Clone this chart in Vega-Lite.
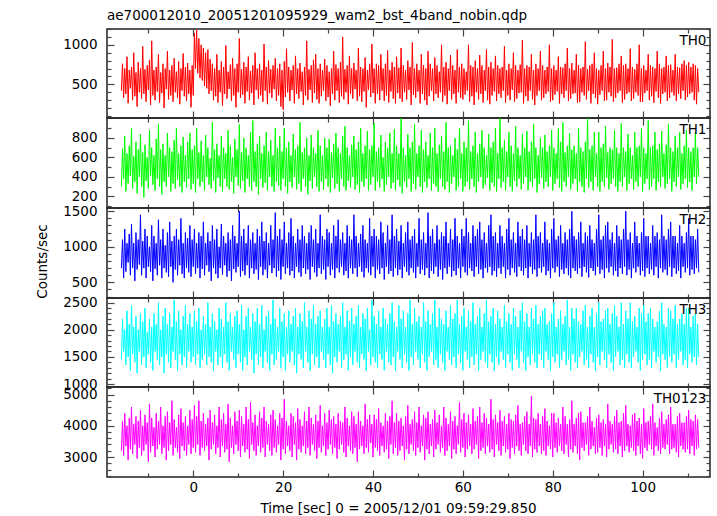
{
"$schema": "https://vega.github.io/schema/vega-lite/v6.json",
"padding": {"left": 34, "top": 8, "right": 5, "bottom": 2},
"background": "white",
"bounds": "flush",
"spacing": 0,
"config": {
  "font": "DejaVu Sans",
  "view": {"stroke": "#222", "strokeWidth": 1.5},
  "axis": {"grid": false, "domain": false, "labelFont": "DejaVu Sans", "labelFontSize": 13.5, "labelColor": "#000", "tickColor": "#444", "tickWidth": 1.2, "titleFont": "DejaVu Sans", "titleFontSize": 13.5, "titleFontWeight": "normal", "titleColor": "#000", "labelOverlap": false, "labelFlush": false},
  "line": {"strokeWidth": 1, "strokeJoin": "bevel"},
  "text": {"font": "DejaVu Sans"}
},
"datasets": {"lc": [
{"t":-16,"a":420,"b":300,"c":700,"d":1450,"e":3200},
{"t":-15.75,"a":760,"b":690,"c":1100,"d":2200,"e":4150},
{"t":-15.5,"a":330,"b":380,"c":560,"d":1600,"e":3050},
{"t":-15.25,"a":700,"b":820,"c":1250,"d":2000,"e":4400},
{"t":-15,"a":380,"b":250,"c":650,"d":1350,"e":3350},
{"t":-14.75,"a":850,"b":640,"c":1050,"d":2350,"e":4000},
{"t":-14.5,"a":260,"b":330,"c":780,"d":1500,"e":2900},
{"t":-14.25,"a":680,"b":720,"c":1180,"d":2100,"e":4250},
{"t":-14,"a":450,"b":410,"c":600,"d":1250,"e":3250},
{"t":-13.75,"a":720,"b":900,"c":1320,"d":2450,"e":4600},
{"t":-13.5,"a":300,"b":280,"c":700,"d":1550,"e":3100},
{"t":-13.25,"a":900,"b":610,"c":1050,"d":2050,"e":4050},
{"t":-13,"a":350,"b":350,"c":520,"d":1400,"e":3400},
{"t":-12.75,"a":650,"b":760,"c":1200,"d":2250,"e":4300},
{"t":-12.5,"a":220,"b":230,"c":680,"d":1200,"e":2950},
{"t":-12.25,"a":780,"b":680,"c":1100,"d":2000,"e":4150},
{"t":-12,"a":400,"b":400,"c":750,"d":1600,"e":3300},
{"t":-11.75,"a":700,"b":840,"c":1450,"d":2300,"e":4500},
{"t":-11.5,"a":320,"b":300,"c":600,"d":1350,"e":3050},
{"t":-11.25,"a":980,"b":650,"c":1080,"d":2150,"e":4000},
{"t":-11,"a":380,"b":190,"c":700,"d":1500,"e":3200},
{"t":-10.75,"a":690,"b":730,"c":1250,"d":2400,"e":4350},
{"t":-10.5,"a":280,"b":360,"c":560,"d":1300,"e":3400},
{"t":-10.25,"a":740,"b":600,"c":1150,"d":1950,"e":4100},
{"t":-10,"a":430,"b":280,"c":720,"d":1550,"e":2850},
{"t":-9.75,"a":810,"b":880,"c":1000,"d":2200,"e":4700},
{"t":-9.5,"a":240,"b":410,"c":650,"d":1400,"e":3150},
{"t":-9.25,"a":1050,"b":700,"c":1300,"d":2050,"e":4250},
{"t":-9,"a":360,"b":320,"c":520,"d":1250,"e":3350},
{"t":-8.75,"a":680,"b":620,"c":1150,"d":2300,"e":3950},
{"t":-8.5,"a":300,"b":260,"c":690,"d":1600,"e":3000},
{"t":-8.25,"a":720,"b":790,"c":1050,"d":2100,"e":4400},
{"t":-8,"a":410,"b":380,"c":600,"d":1450,"e":3250},
{"t":-7.75,"a":880,"b":940,"c":1380,"d":2500,"e":4150},
{"t":-7.5,"a":270,"b":300,"c":740,"d":1350,"e":3400},
{"t":-7.25,"a":650,"b":680,"c":1100,"d":2000,"e":4600},
{"t":-7,"a":390,"b":220,"c":560,"d":1500,"e":3100},
{"t":-6.75,"a":760,"b":740,"c":1250,"d":2250,"e":4000},
{"t":-6.5,"a":200,"b":350,"c":700,"d":1200,"e":3300},
{"t":-6.25,"a":700,"b":620,"c":1020,"d":2400,"e":4300},
{"t":-6,"a":440,"b":300,"c":640,"d":1550,"e":2900},
{"t":-5.75,"a":920,"b":850,"c":1200,"d":2100,"e":4450},
{"t":-5.5,"a":310,"b":400,"c":580,"d":1400,"e":3200},
{"t":-5.25,"a":680,"b":700,"c":1350,"d":2300,"e":4100},
{"t":-5,"a":360,"b":250,"c":720,"d":1300,"e":3400},
{"t":-4.75,"a":740,"b":660,"c":1080,"d":2050,"e":4800},
{"t":-4.5,"a":280,"b":330,"c":500,"d":1600,"e":3050},
{"t":-4.25,"a":830,"b":780,"c":1150,"d":2550,"e":4200},
{"t":-4,"a":400,"b":280,"c":680,"d":1450,"e":3300},
{"t":-3.75,"a":660,"b":900,"c":1250,"d":2150,"e":3950},
{"t":-3.5,"a":330,"b":370,"c":600,"d":1250,"e":3150},
{"t":-3.25,"a":790,"b":640,"c":1100,"d":2350,"e":4350},
{"t":-3,"a":250,"b":300,"c":740,"d":1550,"e":2950},
{"t":-2.75,"a":700,"b":720,"c":1400,"d":2000,"e":4550},
{"t":-2.5,"a":420,"b":240,"c":620,"d":1350,"e":3350},
{"t":-2.25,"a":890,"b":810,"c":1050,"d":2250,"e":4100},
{"t":-2,"a":350,"b":350,"c":560,"d":1500,"e":3200},
{"t":-1.75,"a":720,"b":620,"c":1200,"d":2450,"e":4300},
{"t":-1.5,"a":290,"b":290,"c":700,"d":1300,"e":3050},
{"t":-1.25,"a":770,"b":760,"c":1120,"d":2100,"e":4000},
{"t":-1,"a":380,"b":380,"c":640,"d":1600,"e":3400},
{"t":-0.75,"a":680,"b":850,"c":1300,"d":2300,"e":4500},
{"t":-0.5,"a":210,"b":270,"c":580,"d":1400,"e":3100},
{"t":-0.25,"a":740,"b":680,"c":1100,"d":2050,"e":4200},
{"t":0,"a":360,"b":330,"c":720,"d":1500,"e":3300},
{"t":0.25,"a":1150,"b":720,"c":1250,"d":2350,"e":4650},
{"t":0.5,"a":700,"b":240,"c":620,"d":1350,"e":3150},
{"t":0.75,"a":1190,"b":900,"c":1050,"d":2150,"e":4300},
{"t":1,"a":640,"b":380,"c":700,"d":1550,"e":3400},
{"t":1.25,"a":1080,"b":650,"c":1200,"d":2400,"e":4800},
{"t":1.5,"a":580,"b":300,"c":560,"d":1300,"e":3050},
{"t":1.75,"a":1000,"b":770,"c":1150,"d":2000,"e":4150},
{"t":2,"a":550,"b":350,"c":690,"d":1450,"e":3300},
{"t":2.25,"a":960,"b":620,"c":1350,"d":2250,"e":4400},
{"t":2.5,"a":480,"b":260,"c":600,"d":1550,"e":3200},
{"t":2.75,"a":900,"b":830,"c":1050,"d":2100,"e":4050},
{"t":3,"a":450,"b":400,"c":740,"d":1350,"e":3350},
{"t":3.25,"a":940,"b":700,"c":1200,"d":2500,"e":4250},
{"t":3.5,"a":380,"b":320,"c":650,"d":1500,"e":2900},
{"t":3.75,"a":820,"b":590,"c":1080,"d":2050,"e":4500},
{"t":4,"a":420,"b":280,"c":520,"d":1400,"e":3250},
{"t":4.25,"a":760,"b":960,"c":1300,"d":2300,"e":4100},
{"t":4.5,"a":300,"b":360,"c":700,"d":1250,"e":3400},
{"t":4.75,"a":700,"b":680,"c":1100,"d":2150,"e":4350},
{"t":5,"a":350,"b":240,"c":620,"d":1600,"e":3100},
{"t":5.25,"a":880,"b":740,"c":1250,"d":2000,"e":4000},
{"t":5.5,"a":270,"b":390,"c":560,"d":1350,"e":3300},
{"t":5.75,"a":680,"b":620,"c":1000,"d":2400,"e":4600},
{"t":6,"a":400,"b":300,"c":700,"d":1500,"e":3000},
{"t":6.25,"a":790,"b":820,"c":1320,"d":2200,"e":4200},
{"t":6.5,"a":230,"b":250,"c":610,"d":1300,"e":3350},
{"t":6.75,"a":720,"b":700,"c":1150,"d":2050,"e":4400},
{"t":7,"a":380,"b":380,"c":740,"d":1550,"e":3150},
{"t":7.25,"a":990,"b":640,"c":1050,"d":2500,"e":4050},
{"t":7.5,"a":320,"b":300,"c":580,"d":1400,"e":3250},
{"t":7.75,"a":660,"b":880,"c":1200,"d":2150,"e":4700},
{"t":8,"a":440,"b":270,"c":660,"d":1250,"e":2850},
{"t":8.25,"a":750,"b":720,"c":1100,"d":2300,"e":4250},
{"t":8.5,"a":290,"b":350,"c":520,"d":1600,"e":3300},
{"t":8.75,"a":830,"b":600,"c":1300,"d":2050,"e":4000},
{"t":9,"a":360,"b":230,"c":690,"d":1450,"e":3100},
{"t":9.25,"a":700,"b":790,"c":1150,"d":2250,"e":4450},
{"t":9.5,"a":210,"b":400,"c":640,"d":1300,"e":3400},
{"t":9.75,"a":760,"b":680,"c":1050,"d":2350,"e":4150},
{"t":10,"a":400,"b":310,"c":720,"d":1550,"e":3200},
{"t":10.25,"a":1080,"b":940,"c":1500,"d":2100,"e":4500},
{"t":10.5,"a":330,"b":280,"c":580,"d":1400,"e":3000},
{"t":10.75,"a":690,"b":650,"c":1150,"d":2450,"e":4300},
{"t":11,"a":370,"b":360,"c":660,"d":1250,"e":3350},
{"t":11.25,"a":780,"b":800,"c":1250,"d":2000,"e":4050},
{"t":11.5,"a":260,"b":240,"c":600,"d":1500,"e":3150},
{"t":11.75,"a":720,"b":700,"c":1050,"d":2250,"e":4600},
{"t":12,"a":410,"b":380,"c":740,"d":1350,"e":3250},
{"t":12.25,"a":850,"b":620,"c":1300,"d":2400,"e":4200},
{"t":12.5,"a":300,"b":300,"c":560,"d":1600,"e":2950},
{"t":12.75,"a":670,"b":860,"c":1100,"d":2050,"e":4750},
{"t":13,"a":390,"b":260,"c":700,"d":1450,"e":3400},
{"t":13.25,"a":740,"b":980,"c":1200,"d":2300,"e":4100},
{"t":13.5,"a":240,"b":350,"c":620,"d":1200,"e":3200},
{"t":13.75,"a":900,"b":660,"c":1050,"d":2150,"e":4350},
{"t":14,"a":430,"b":300,"c":680,"d":1550,"e":3050},
{"t":14.25,"a":700,"b":740,"c":1250,"d":2400,"e":4000},
{"t":14.5,"a":320,"b":220,"c":540,"d":1350,"e":3350},
{"t":14.75,"a":760,"b":820,"c":1150,"d":2100,"e":4450},
{"t":15,"a":360,"b":380,"c":720,"d":1500,"e":3150},
{"t":15.25,"a":680,"b":640,"c":1350,"d":2450,"e":4250},
{"t":15.5,"a":280,"b":290,"c":600,"d":1300,"e":3300},
{"t":15.75,"a":1010,"b":720,"c":1080,"d":2000,"e":4600},
{"t":16,"a":420,"b":340,"c":680,"d":1600,"e":3000},
{"t":16.25,"a":720,"b":860,"c":1200,"d":2250,"e":4150},
{"t":16.5,"a":250,"b":260,"c":560,"d":1400,"e":3400},
{"t":16.75,"a":800,"b":660,"c":1050,"d":2350,"e":4050},
{"t":17,"a":390,"b":400,"c":740,"d":1250,"e":3200},
{"t":17.25,"a":690,"b":780,"c":1300,"d":2100,"e":4350},
{"t":17.5,"a":330,"b":300,"c":630,"d":1550,"e":3050},
{"t":17.75,"a":740,"b":620,"c":1100,"d":2550,"e":4500},
{"t":18,"a":440,"b":250,"c":700,"d":1350,"e":3300},
{"t":18.25,"a":830,"b":900,"c":1480,"d":2200,"e":4200},
{"t":18.5,"a":290,"b":350,"c":580,"d":1450,"e":3150},
{"t":18.75,"a":700,"b":700,"c":1150,"d":2050,"e":4000},
{"t":19,"a":360,"b":310,"c":660,"d":1600,"e":3400},
{"t":19.25,"a":760,"b":820,"c":1250,"d":2400,"e":4400},
{"t":19.5,"a":220,"b":260,"c":540,"d":1300,"e":2900},
{"t":19.75,"a":680,"b":660,"c":1100,"d":2150,"e":4250},
{"t":20,"a":180,"b":380,"c":720,"d":1500,"e":3250},
{"t":20.25,"a":790,"b":900,"c":1350,"d":2300,"e":4850},
{"t":20.5,"a":340,"b":300,"c":620,"d":1250,"e":3100},
{"t":20.75,"a":950,"b":700,"c":1050,"d":2050,"e":4150},
{"t":21,"a":400,"b":230,"c":700,"d":1550,"e":3350},
{"t":21.25,"a":720,"b":760,"c":1200,"d":2350,"e":4000},
{"t":21.5,"a":290,"b":350,"c":600,"d":1400,"e":3200},
{"t":21.75,"a":680,"b":620,"c":1400,"d":2100,"e":4400},
{"t":22,"a":430,"b":290,"c":660,"d":1600,"e":3000},
{"t":22.25,"a":740,"b":840,"c":1150,"d":2250,"e":4300},
{"t":22.5,"a":260,"b":400,"c":560,"d":1350,"e":3400},
{"t":22.75,"a":860,"b":680,"c":1050,"d":2400,"e":4100},
{"t":23,"a":380,"b":270,"c":720,"d":1200,"e":2900},
{"t":23.25,"a":700,"b":720,"c":1250,"d":2050,"e":4550},
{"t":23.5,"a":320,"b":330,"c":640,"d":1550,"e":3250},
{"t":23.75,"a":770,"b":960,"c":1100,"d":2300,"e":4200},
{"t":24,"a":410,"b":250,"c":580,"d":1450,"e":3150},
{"t":24.25,"a":660,"b":650,"c":1300,"d":2150,"e":4000},
{"t":24.5,"a":240,"b":380,"c":700,"d":1300,"e":3350},
{"t":24.75,"a":720,"b":700,"c":1150,"d":2500,"e":4450},
{"t":25,"a":360,"b":300,"c":620,"d":1600,"e":3100},
{"t":25.25,"a":1050,"b":800,"c":1050,"d":2050,"e":4150},
{"t":25.5,"a":300,"b":220,"c":680,"d":1400,"e":3300},
{"t":25.75,"a":690,"b":620,"c":1200,"d":2350,"e":4600},
{"t":26,"a":430,"b":360,"c":540,"d":1250,"e":3050},
{"t":26.25,"a":740,"b":830,"c":1300,"d":2200,"e":4250},
{"t":26.5,"a":270,"b":280,"c":720,"d":1550,"e":3400},
{"t":26.75,"a":810,"b":700,"c":1100,"d":2450,"e":4050},
{"t":27,"a":390,"b":400,"c":640,"d":1350,"e":3200},
{"t":27.25,"a":880,"b":640,"c":1250,"d":2100,"e":4350},
{"t":27.5,"a":310,"b":300,"c":580,"d":1500,"e":2950},
{"t":27.75,"a":700,"b":880,"c":1050,"d":2250,"e":4150},
{"t":28,"a":260,"b":250,"c":700,"d":1300,"e":3300},
{"t":28.25,"a":760,"b":720,"c":1450,"d":2350,"e":4650},
{"t":28.5,"a":350,"b":350,"c":620,"d":1600,"e":3150},
{"t":28.75,"a":680,"b":620,"c":1150,"d":2050,"e":4000},
{"t":29,"a":420,"b":270,"c":680,"d":1450,"e":3350},
{"t":29.25,"a":820,"b":800,"c":1100,"d":2200,"e":4400},
{"t":29.5,"a":290,"b":380,"c":540,"d":1300,"e":3050},
{"t":29.75,"a":740,"b":700,"c":1250,"d":2400,"e":4100},
{"t":30,"a":340,"b":300,"c":720,"d":1550,"e":3250},
{"t":30.25,"a":660,"b":790,"c":1200,"d":2050,"e":4500},
{"t":30.5,"a":230,"b":240,"c":600,"d":1350,"e":3400},
{"t":30.75,"a":700,"b":650,"c":1050,"d":2450,"e":4200},
{"t":31,"a":380,"b":390,"c":680,"d":1200,"e":3100},
{"t":31.25,"a":920,"b":740,"c":1300,"d":2150,"e":4300},
{"t":31.5,"a":300,"b":280,"c":560,"d":1500,"e":3300},
{"t":31.75,"a":750,"b":850,"c":1150,"d":2300,"e":4050},
{"t":32,"a":420,"b":330,"c":700,"d":1400,"e":2950},
{"t":32.25,"a":700,"b":700,"c":1380,"d":2100,"e":4400},
{"t":32.5,"a":270,"b":250,"c":640,"d":1600,"e":3250},
{"t":32.75,"a":780,"b":640,"c":1100,"d":2250,"e":4150},
{"t":33,"a":350,"b":380,"c":720,"d":1300,"e":3400},
{"t":33.25,"a":1100,"b":820,"c":1200,"d":2500,"e":4100},
{"t":33.5,"a":310,"b":300,"c":600,"d":1450,"e":3150},
{"t":33.75,"a":690,"b":920,"c":1050,"d":2050,"e":4600},
{"t":34,"a":400,"b":260,"c":660,"d":1550,"e":3000},
{"t":34.25,"a":740,"b":700,"c":1300,"d":2350,"e":4250},
{"t":34.5,"a":250,"b":360,"c":560,"d":1250,"e":3350},
{"t":34.75,"a":860,"b":620,"c":1150,"d":2150,"e":4000},
{"t":35,"a":380,"b":290,"c":700,"d":1500,"e":3200},
{"t":35.25,"a":700,"b":730,"c":1100,"d":2400,"e":4450},
{"t":35.5,"a":320,"b":400,"c":620,"d":1350,"e":3100},
{"t":35.75,"a":770,"b":820,"c":1450,"d":2100,"e":4300},
{"t":36,"a":440,"b":270,"c":700,"d":1600,"e":3300},
{"t":36.25,"a":680,"b":680,"c":1150,"d":2250,"e":4050},
{"t":36.5,"a":290,"b":320,"c":580,"d":1400,"e":2850},
{"t":36.75,"a":960,"b":760,"c":1050,"d":2450,"e":4450},
{"t":37,"a":350,"b":240,"c":720,"d":1300,"e":3250},
{"t":37.25,"a":720,"b":900,"c":1180,"d":2050,"e":4150},
{"t":37.5,"a":280,"b":350,"c":650,"d":1550,"e":3350},
{"t":37.75,"a":700,"b":640,"c":1300,"d":2300,"e":4000},
{"t":38,"a":410,"b":300,"c":570,"d":1450,"e":3100},
{"t":38.25,"a":840,"b":720,"c":1100,"d":2200,"e":4700},
{"t":38.5,"a":210,"b":380,"c":700,"d":1250,"e":3300},
{"t":38.75,"a":680,"b":870,"c":1050,"d":2400,"e":4200},
{"t":39,"a":430,"b":260,"c":640,"d":1600,"e":3150},
{"t":39.25,"a":760,"b":680,"c":1400,"d":2000,"e":4350},
{"t":39.5,"a":340,"b":320,"c":600,"d":1350,"e":3450},
{"t":39.75,"a":1010,"b":720,"c":1150,"d":2550,"e":4050},
{"t":40,"a":390,"b":400,"c":720,"d":1500,"e":3000},
{"t":40.25,"a":700,"b":950,"c":1250,"d":2250,"e":4350},
{"t":40.5,"a":260,"b":260,"c":560,"d":1400,"e":3300},
{"t":40.75,"a":760,"b":660,"c":1150,"d":2100,"e":4200},
{"t":41,"a":380,"b":350,"c":680,"d":1300,"e":3200},
{"t":41.25,"a":740,"b":700,"c":1100,"d":2350,"e":4550},
{"t":41.5,"a":300,"b":290,"c":620,"d":1550,"e":3050},
{"t":41.75,"a":880,"b":830,"c":1350,"d":2050,"e":4100},
{"t":42,"a":420,"b":380,"c":700,"d":1450,"e":3350},
{"t":42.25,"a":700,"b":600,"c":1200,"d":2400,"e":4000},
{"t":42.5,"a":290,"b":250,"c":540,"d":1250,"e":3150},
{"t":42.75,"a":760,"b":760,"c":1050,"d":2200,"e":4400},
{"t":43,"a":360,"b":320,"c":720,"d":1600,"e":3250},
{"t":43.25,"a":930,"b":700,"c":1300,"d":2100,"e":4150},
{"t":43.5,"a":270,"b":400,"c":620,"d":1400,"e":2950},
{"t":43.75,"a":680,"b":850,"c":1100,"d":2300,"e":4300},
{"t":44,"a":410,"b":280,"c":660,"d":1350,"e":3400},
{"t":44.25,"a":780,"b":640,"c":1450,"d":2500,"e":4800},
{"t":44.5,"a":320,"b":340,"c":580,"d":1500,"e":3100},
{"t":44.75,"a":720,"b":890,"c":1150,"d":2150,"e":4100},
{"t":45,"a":260,"b":260,"c":700,"d":1250,"e":3300},
{"t":45.25,"a":850,"b":720,"c":1250,"d":2050,"e":4400},
{"t":45.5,"a":390,"b":370,"c":600,"d":1600,"e":3050},
{"t":45.75,"a":710,"b":640,"c":1080,"d":2450,"e":4150},
{"t":46,"a":320,"b":300,"c":680,"d":1450,"e":3200},
{"t":46.25,"a":960,"b":1000,"c":1300,"d":2200,"e":4250},
{"t":46.5,"a":280,"b":230,"c":560,"d":1300,"e":3350},
{"t":46.75,"a":740,"b":700,"c":1050,"d":2350,"e":4000},
{"t":47,"a":400,"b":350,"c":720,"d":1550,"e":2900},
{"t":47.25,"a":680,"b":620,"c":1200,"d":2050,"e":4300},
{"t":47.5,"a":310,"b":290,"c":650,"d":1400,"e":3250},
{"t":47.75,"a":800,"b":840,"c":1350,"d":2300,"e":4650},
{"t":48,"a":430,"b":380,"c":600,"d":1250,"e":3100},
{"t":48.25,"a":720,"b":700,"c":1100,"d":2550,"e":4050},
{"t":48.5,"a":240,"b":250,"c":700,"d":1500,"e":3400},
{"t":48.75,"a":1030,"b":760,"c":1150,"d":2100,"e":4200},
{"t":49,"a":370,"b":330,"c":640,"d":1350,"e":3200},
{"t":49.25,"a":700,"b":940,"c":1250,"d":2400,"e":4450},
{"t":49.5,"a":330,"b":270,"c":560,"d":1600,"e":3050},
{"t":49.75,"a":760,"b":640,"c":1050,"d":2150,"e":4100},
{"t":50,"a":410,"b":400,"c":720,"d":1450,"e":3300},
{"t":50.25,"a":680,"b":720,"c":1400,"d":2250,"e":4600},
{"t":50.5,"a":260,"b":300,"c":620,"d":1300,"e":3150},
{"t":50.75,"a":880,"b":880,"c":1100,"d":2050,"e":4000},
{"t":51,"a":380,"b":240,"c":680,"d":1550,"e":3350},
{"t":51.25,"a":740,"b":680,"c":1200,"d":2500,"e":4350},
{"t":51.5,"a":300,"b":350,"c":600,"d":1400,"e":2900},
{"t":51.75,"a":700,"b":760,"c":1050,"d":2150,"e":4250},
{"t":52,"a":240,"b":290,"c":700,"d":1250,"e":3250},
{"t":52.25,"a":920,"b":620,"c":1480,"d":2350,"e":4450},
{"t":52.5,"a":350,"b":380,"c":560,"d":1500,"e":3100},
{"t":52.75,"a":760,"b":850,"c":1150,"d":2100,"e":4050},
{"t":53,"a":420,"b":260,"c":660,"d":1600,"e":3350},
{"t":53.25,"a":700,"b":700,"c":1250,"d":2300,"e":4200},
{"t":53.5,"a":290,"b":330,"c":620,"d":1350,"e":3000},
{"t":53.75,"a":840,"b":900,"c":1050,"d":2550,"e":4500},
{"t":54,"a":380,"b":300,"c":720,"d":1450,"e":3250},
{"t":54.25,"a":740,"b":640,"c":1300,"d":2050,"e":4100},
{"t":54.5,"a":330,"b":250,"c":580,"d":1300,"e":3400},
{"t":54.75,"a":660,"b":730,"c":1100,"d":2400,"e":4350},
{"t":55,"a":400,"b":380,"c":680,"d":1550,"e":3150},
{"t":55.25,"a":1000,"b":820,"c":1200,"d":2200,"e":4000},
{"t":55.5,"a":280,"b":300,"c":540,"d":1400,"e":3300},
{"t":55.75,"a":720,"b":660,"c":1150,"d":2100,"e":4600},
{"t":56,"a":360,"b":270,"c":700,"d":1250,"e":3050},
{"t":56.25,"a":780,"b":960,"c":1350,"d":2350,"e":4250},
{"t":56.5,"a":250,"b":350,"c":620,"d":1600,"e":3200},
{"t":56.75,"a":700,"b":700,"c":1050,"d":2050,"e":4050},
{"t":57,"a":420,"b":240,"c":720,"d":1450,"e":3350},
{"t":57.25,"a":870,"b":720,"c":1250,"d":2450,"e":4450},
{"t":57.5,"a":310,"b":330,"c":580,"d":1350,"e":2950},
{"t":57.75,"a":740,"b":620,"c":1100,"d":2200,"e":4150},
{"t":58,"a":380,"b":400,"c":660,"d":1500,"e":3250},
{"t":58.25,"a":680,"b":800,"c":1400,"d":2300,"e":4300},
{"t":58.5,"a":260,"b":260,"c":600,"d":1300,"e":3100},
{"t":58.75,"a":940,"b":680,"c":1150,"d":2550,"e":4000},
{"t":59,"a":400,"b":300,"c":700,"d":1550,"e":3400},
{"t":59.25,"a":720,"b":900,"c":1050,"d":2100,"e":4750},
{"t":59.5,"a":330,"b":380,"c":560,"d":1400,"e":3150},
{"t":59.75,"a":760,"b":640,"c":1250,"d":2250,"e":4200},
{"t":60,"a":310,"b":250,"c":720,"d":1250,"e":3300},
{"t":60.25,"a":700,"b":760,"c":1150,"d":2400,"e":4400},
{"t":60.5,"a":370,"b":300,"c":640,"d":1600,"e":3000},
{"t":60.75,"a":660,"b":700,"c":1400,"d":2050,"e":4100},
{"t":61,"a":420,"b":350,"c":600,"d":1450,"e":3250},
{"t":61.25,"a":1000,"b":980,"c":1200,"d":2350,"e":4350},
{"t":61.5,"a":280,"b":270,"c":700,"d":1300,"e":3350},
{"t":61.75,"a":740,"b":660,"c":1050,"d":2150,"e":4050},
{"t":62,"a":350,"b":380,"c":660,"d":1500,"e":3100},
{"t":62.25,"a":720,"b":720,"c":1300,"d":2500,"e":4550},
{"t":62.5,"a":240,"b":300,"c":580,"d":1350,"e":3250},
{"t":62.75,"a":800,"b":860,"c":1150,"d":2100,"e":4150},
{"t":63,"a":400,"b":240,"c":720,"d":1550,"e":3400},
{"t":63.25,"a":700,"b":640,"c":1250,"d":2250,"e":4300},
{"t":63.5,"a":310,"b":350,"c":620,"d":1250,"e":2950},
{"t":63.75,"a":870,"b":740,"c":1350,"d":2400,"e":4600},
{"t":64,"a":380,"b":400,"c":680,"d":1450,"e":3200},
{"t":64.25,"a":740,"b":880,"c":1100,"d":2050,"e":4100},
{"t":64.5,"a":270,"b":280,"c":560,"d":1600,"e":3300},
{"t":64.75,"a":680,"b":700,"c":1200,"d":2300,"e":4400},
{"t":65,"a":420,"b":320,"c":700,"d":1400,"e":3100},
{"t":65.25,"a":940,"b":620,"c":1050,"d":2550,"e":4250},
{"t":65.5,"a":300,"b":390,"c":640,"d":1300,"e":3350},
{"t":65.75,"a":720,"b":840,"c":1300,"d":2150,"e":4050},
{"t":66,"a":250,"b":260,"c":720,"d":1550,"e":3150},
{"t":66.25,"a":780,"b":700,"c":1450,"d":2250,"e":4850},
{"t":66.5,"a":360,"b":340,"c":600,"d":1400,"e":3250},
{"t":66.75,"a":700,"b":760,"c":1150,"d":2400,"e":4200},
{"t":67,"a":410,"b":300,"c":660,"d":1250,"e":3000},
{"t":67.25,"a":860,"b":900,"c":1200,"d":2100,"e":4350},
{"t":67.5,"a":290,"b":250,"c":580,"d":1500,"e":3400},
{"t":67.75,"a":740,"b":640,"c":1050,"d":2350,"e":4100},
{"t":68,"a":380,"b":380,"c":700,"d":1350,"e":3200},
{"t":68.25,"a":700,"b":1000,"c":1300,"d":2200,"e":4500},
{"t":68.5,"a":330,"b":290,"c":620,"d":1600,"e":3050},
{"t":68.75,"a":720,"b":700,"c":1150,"d":2050,"e":4150},
{"t":69,"a":420,"b":350,"c":720,"d":1450,"e":3350},
{"t":69.25,"a":980,"b":780,"c":1050,"d":2450,"e":4300},
{"t":69.5,"a":270,"b":260,"c":560,"d":1300,"e":3150},
{"t":69.75,"a":680,"b":660,"c":1250,"d":2150,"e":4050},
{"t":70,"a":360,"b":400,"c":680,"d":1550,"e":3250},
{"t":70.25,"a":760,"b":860,"c":1400,"d":2300,"e":4400},
{"t":70.5,"a":300,"b":300,"c":600,"d":1400,"e":2950},
{"t":70.75,"a":700,"b":720,"c":1100,"d":2100,"e":4200},
{"t":71,"a":430,"b":250,"c":700,"d":1250,"e":3300},
{"t":71.25,"a":900,"b":640,"c":1200,"d":2400,"e":4150},
{"t":71.5,"a":280,"b":360,"c":640,"d":1550,"e":3100},
{"t":71.75,"a":740,"b":920,"c":1050,"d":2250,"e":4350},
{"t":72,"a":320,"b":300,"c":580,"d":1450,"e":3350},
{"t":72.25,"a":680,"b":700,"c":1350,"d":2050,"e":4650},
{"t":72.5,"a":390,"b":380,"c":720,"d":1300,"e":3200},
{"t":72.75,"a":750,"b":620,"c":1150,"d":2350,"e":4050},
{"t":73,"a":400,"b":270,"c":660,"d":1600,"e":3050},
{"t":73.25,"a":1060,"b":840,"c":1250,"d":2500,"e":4100},
{"t":73.5,"a":260,"b":330,"c":600,"d":1400,"e":3400},
{"t":73.75,"a":700,"b":700,"c":1100,"d":2150,"e":4300},
{"t":74,"a":350,"b":400,"c":700,"d":1250,"e":3200},
{"t":74.25,"a":740,"b":870,"c":1300,"d":2300,"e":4450},
{"t":74.5,"a":290,"b":260,"c":560,"d":1500,"e":3100},
{"t":74.75,"a":720,"b":660,"c":1050,"d":2050,"e":4050},
{"t":75,"a":420,"b":350,"c":720,"d":1350,"e":3350},
{"t":75.25,"a":880,"b":760,"c":1200,"d":2400,"e":4950},
{"t":75.5,"a":310,"b":300,"c":620,"d":1550,"e":3000},
{"t":75.75,"a":680,"b":940,"c":1100,"d":2200,"e":4250},
{"t":76,"a":240,"b":380,"c":680,"d":1400,"e":3250},
{"t":76.25,"a":760,"b":700,"c":1450,"d":2450,"e":4200},
{"t":76.5,"a":360,"b":240,"c":580,"d":1300,"e":3150},
{"t":76.75,"a":700,"b":620,"c":1150,"d":2100,"e":4400},
{"t":77,"a":420,"b":330,"c":700,"d":1550,"e":3350},
{"t":77.25,"a":920,"b":800,"c":1200,"d":2250,"e":4050},
{"t":77.5,"a":300,"b":390,"c":640,"d":1450,"e":3100},
{"t":77.75,"a":740,"b":700,"c":1050,"d":2350,"e":4300},
{"t":78,"a":330,"b":280,"c":720,"d":1300,"e":3200},
{"t":78.25,"a":680,"b":830,"c":1350,"d":2400,"e":4550},
{"t":78.5,"a":380,"b":350,"c":600,"d":1600,"e":3050},
{"t":78.75,"a":720,"b":660,"c":1100,"d":2100,"e":4150},
{"t":79,"a":410,"b":300,"c":660,"d":1450,"e":3350},
{"t":79.25,"a":1000,"b":720,"c":1050,"d":2150,"e":4000},
{"t":79.5,"a":280,"b":400,"c":560,"d":1250,"e":3250},
{"t":79.75,"a":700,"b":880,"c":1250,"d":2300,"e":4400},
{"t":80,"a":300,"b":260,"c":700,"d":1500,"e":3000},
{"t":80.25,"a":740,"b":700,"c":1400,"d":2500,"e":4400},
{"t":80.5,"a":370,"b":330,"c":640,"d":1400,"e":3300},
{"t":80.75,"a":680,"b":640,"c":1100,"d":2050,"e":4100},
{"t":81,"a":410,"b":380,"c":720,"d":1550,"e":3150},
{"t":81.25,"a":850,"b":900,"c":1150,"d":2200,"e":4250},
{"t":81.5,"a":260,"b":290,"c":580,"d":1300,"e":3350},
{"t":81.75,"a":720,"b":760,"c":1300,"d":2350,"e":4050},
{"t":82,"a":380,"b":250,"c":680,"d":1450,"e":3200},
{"t":82.25,"a":710,"b":960,"c":1050,"d":2100,"e":4600},
{"t":82.5,"a":330,"b":350,"c":620,"d":1600,"e":3100},
{"t":82.75,"a":760,"b":650,"c":1200,"d":2250,"e":4300},
{"t":83,"a":420,"b":300,"c":700,"d":1350,"e":3400},
{"t":83.25,"a":960,"b":720,"c":1100,"d":2550,"e":4050},
{"t":83.5,"a":290,"b":400,"c":600,"d":1450,"e":3000},
{"t":83.75,"a":700,"b":850,"c":1250,"d":2050,"e":4200},
{"t":84,"a":320,"b":270,"c":560,"d":1250,"e":3250},
{"t":84.25,"a":770,"b":680,"c":1500,"d":2400,"e":4800},
{"t":84.5,"a":380,"b":330,"c":700,"d":1550,"e":3150},
{"t":84.75,"a":680,"b":720,"c":1150,"d":2200,"e":4050},
{"t":85,"a":390,"b":380,"c":660,"d":1400,"e":3350},
{"t":85.25,"a":880,"b":640,"c":1100,"d":2400,"e":4250},
{"t":85.5,"a":270,"b":250,"c":620,"d":1300,"e":3100},
{"t":85.75,"a":740,"b":900,"c":1200,"d":2150,"e":4400},
{"t":86,"a":280,"b":350,"c":700,"d":1500,"e":2900},
{"t":86.25,"a":700,"b":700,"c":1350,"d":2100,"e":4450},
{"t":86.5,"a":400,"b":300,"c":580,"d":1600,"e":3300},
{"t":86.75,"a":720,"b":660,"c":1050,"d":2350,"e":4100},
{"t":87,"a":360,"b":240,"c":720,"d":1350,"e":3200},
{"t":87.25,"a":1040,"b":760,"c":1200,"d":2450,"e":4100},
{"t":87.5,"a":310,"b":380,"c":640,"d":1450,"e":3400},
{"t":87.75,"a":690,"b":1000,"c":1150,"d":2050,"e":4300},
{"t":88,"a":420,"b":290,"c":570,"d":1300,"e":3050},
{"t":88.25,"a":740,"b":680,"c":1300,"d":2250,"e":4600},
{"t":88.5,"a":260,"b":350,"c":700,"d":1550,"e":3250},
{"t":88.75,"a":760,"b":720,"c":1100,"d":2400,"e":4150},
{"t":89,"a":380,"b":260,"c":660,"d":1400,"e":3350},
{"t":89.25,"a":900,"b":860,"c":1050,"d":2050,"e":3950},
{"t":89.5,"a":330,"b":400,"c":600,"d":1250,"e":3100},
{"t":89.75,"a":700,"b":640,"c":1250,"d":2300,"e":4250},
{"t":90,"a":250,"b":300,"c":720,"d":1500,"e":3150},
{"t":90.25,"a":680,"b":860,"c":1450,"d":2500,"e":4350},
{"t":90.5,"a":370,"b":250,"c":620,"d":1350,"e":3300},
{"t":90.75,"a":740,"b":700,"c":1100,"d":2150,"e":4100},
{"t":91,"a":420,"b":350,"c":680,"d":1600,"e":3050},
{"t":91.25,"a":920,"b":740,"c":1150,"d":2200,"e":4200},
{"t":91.5,"a":290,"b":300,"c":560,"d":1450,"e":3350},
{"t":91.75,"a":700,"b":920,"c":1300,"d":2350,"e":4050},
{"t":92,"a":300,"b":390,"c":700,"d":1300,"e":3000},
{"t":92.25,"a":770,"b":650,"c":1350,"d":2400,"e":4700},
{"t":92.5,"a":400,"b":270,"c":640,"d":1550,"e":3250},
{"t":92.75,"a":720,"b":700,"c":1100,"d":2100,"e":4150},
{"t":93,"a":350,"b":330,"c":720,"d":1400,"e":3400},
{"t":93.25,"a":1070,"b":680,"c":1200,"d":2300,"e":4050},
{"t":93.5,"a":280,"b":380,"c":600,"d":1250,"e":3150},
{"t":93.75,"a":700,"b":880,"c":1050,"d":2450,"e":4300},
{"t":94,"a":330,"b":300,"c":660,"d":1500,"e":3250},
{"t":94.25,"a":710,"b":700,"c":1300,"d":2250,"e":4500},
{"t":94.5,"a":390,"b":250,"c":580,"d":1600,"e":3100},
{"t":94.75,"a":760,"b":640,"c":1150,"d":2050,"e":4100},
{"t":95,"a":420,"b":350,"c":700,"d":1350,"e":3350},
{"t":95.25,"a":860,"b":950,"c":1100,"d":2500,"e":4150},
{"t":95.5,"a":270,"b":300,"c":620,"d":1450,"e":3000},
{"t":95.75,"a":740,"b":700,"c":1250,"d":2100,"e":4400},
{"t":96,"a":310,"b":400,"c":720,"d":1300,"e":3200},
{"t":96.25,"a":760,"b":660,"c":1500,"d":2350,"e":4650},
{"t":96.5,"a":380,"b":260,"c":600,"d":1550,"e":3350},
{"t":96.75,"a":700,"b":840,"c":1100,"d":2200,"e":4050},
{"t":97,"a":400,"b":330,"c":680,"d":1400,"e":3150},
{"t":97.25,"a":950,"b":700,"c":1200,"d":2500,"e":4000},
{"t":97.5,"a":290,"b":380,"c":560,"d":1300,"e":3300},
{"t":97.75,"a":720,"b":620,"c":1050,"d":2150,"e":4350},
{"t":98,"a":320,"b":270,"c":700,"d":1500,"e":3200},
{"t":98.25,"a":690,"b":860,"c":1350,"d":2250,"e":4400},
{"t":98.5,"a":400,"b":350,"c":640,"d":1600,"e":3050},
{"t":98.75,"a":760,"b":700,"c":1150,"d":2050,"e":4150},
{"t":99,"a":360,"b":300,"c":720,"d":1400,"e":3350},
{"t":99.25,"a":1000,"b":720,"c":1050,"d":2400,"e":4250},
{"t":99.5,"a":280,"b":400,"c":600,"d":1250,"e":3100},
{"t":99.75,"a":700,"b":900,"c":1200,"d":2300,"e":4050},
{"t":100,"a":280,"b":250,"c":660,"d":1450,"e":2950},
{"t":100.25,"a":740,"b":700,"c":1400,"d":2450,"e":4550},
{"t":100.5,"a":390,"b":330,"c":580,"d":1550,"e":3300},
{"t":100.75,"a":680,"b":640,"c":1150,"d":2150,"e":4100},
{"t":101,"a":420,"b":380,"c":700,"d":1350,"e":3200},
{"t":101.25,"a":880,"b":980,"c":1150,"d":2300,"e":4150},
{"t":101.5,"a":300,"b":270,"c":620,"d":1450,"e":3400},
{"t":101.75,"a":740,"b":700,"c":1050,"d":2400,"e":4300},
{"t":102,"a":350,"b":300,"c":680,"d":1300,"e":3250},
{"t":102.25,"a":720,"b":720,"c":1300,"d":2200,"e":4700},
{"t":102.5,"a":270,"b":380,"c":600,"d":1600,"e":3050},
{"t":102.75,"a":700,"b":860,"c":1150,"d":2050,"e":4100},
{"t":103,"a":410,"b":260,"c":720,"d":1400,"e":3350},
{"t":103.25,"a":920,"b":680,"c":1200,"d":2150,"e":3950},
{"t":103.5,"a":330,"b":350,"c":560,"d":1500,"e":3200},
{"t":103.75,"a":760,"b":740,"c":1100,"d":2350,"e":4250},
{"t":104,"a":260,"b":300,"c":700,"d":1250,"e":3100},
{"t":104.25,"a":700,"b":870,"c":1450,"d":2500,"e":4450},
{"t":104.5,"a":380,"b":400,"c":640,"d":1550,"e":3300},
{"t":104.75,"a":720,"b":640,"c":1150,"d":2100,"e":4050},
{"t":105,"a":400,"b":280,"c":680,"d":1450,"e":3250},
{"t":105.25,"a":860,"b":730,"c":1100,"d":2050,"e":4200},
{"t":105.5,"a":290,"b":330,"c":600,"d":1300,"e":3400},
{"t":105.75,"a":740,"b":940,"c":1250,"d":2400,"e":4350},
{"t":106,"a":330,"b":380,"c":720,"d":1500,"e":3100},
{"t":106.25,"a":750,"b":700,"c":1350,"d":2350,"e":4600},
{"t":106.5,"a":400,"b":250,"c":580,"d":1400,"e":3250},
{"t":106.75,"a":680,"b":660,"c":1150,"d":2200,"e":4050},
{"t":107,"a":360,"b":350,"c":700,"d":1550,"e":3300},
{"t":107.25,"a":880,"b":820,"c":1150,"d":2450,"e":4050},
{"t":107.5,"a":290,"b":300,"c":620,"d":1300,"e":3150},
{"t":107.75,"a":720,"b":700,"c":1050,"d":2100,"e":4300},
{"t":108,"a":380,"b":400,"c":660,"d":1450,"e":3000},
{"t":108.25,"a":710,"b":860,"c":1300,"d":2200,"e":4400},
{"t":108.5,"a":320,"b":270,"c":560,"d":1600,"e":3350},
{"t":108.75,"a":760,"b":640,"c":1150,"d":2300,"e":4100},
{"t":109,"a":420,"b":330,"c":720,"d":1350,"e":3250},
{"t":109.25,"a":800,"b":720,"c":1050,"d":2100,"e":4100},
{"t":109.5,"a":300,"b":380,"c":640,"d":1450,"e":3150},
{"t":109.75,"a":740,"b":880,"c":1200,"d":2400,"e":4300},
{"t":110,"a":340,"b":290,"c":700,"d":1300,"e":3250},
{"t":110.25,"a":780,"b":700,"c":1400,"d":2400,"e":4500},
{"t":110.5,"a":380,"b":350,"c":600,"d":1550,"e":3100},
{"t":110.75,"a":720,"b":660,"c":1150,"d":2050,"e":4200},
{"t":111,"a":400,"b":260,"c":680,"d":1400,"e":3350},
{"t":111.25,"a":760,"b":700,"c":1150,"d":2250,"e":4150},
{"t":111.5,"a":300,"b":400,"c":620,"d":1500,"e":3050},
{"t":111.75,"a":740,"b":860,"c":1100,"d":2300,"e":4350},
{"t":112,"a":250,"b":330,"c":700,"d":1350,"e":3250},
{"t":112.25,"a":700,"b":700,"c":1250,"d":2100,"e":4200},
{"t":112.5,"a":400,"b":400,"c":640,"d":1500,"e":3300}
]},
"vconcat": [
{
  "width": 603, "height": 89,
  "title": {"text": "ae700012010_20051201095929_wam2_bst_4band_nobin.qdp", "anchor": "start", "frame": "group", "font": "DejaVu Sans", "fontSize": 13.5, "fontWeight": "normal", "color": "#000", "offset": -0.5},
  "data": {"name": "lc"},
  "resolve": {"axis": {"x": "independent", "y": "independent"}},
  "layer": [
    {"mark": {"type": "line", "color": "#ff0000", "clip": true},
     "encoding": {
       "x": {"field": "t", "type": "quantitative", "scale": {"domain": [-19.2, 115], "nice": false, "zero": false},
             "axis": {"orient": "bottom", "values": [-10,0,10,20,30,40,50,60,70,80,90,100,110], "labels": false, "title": null, "tickSize": {"condition": {"test": "datum.value % 20 === 0", "value": -7}, "value": -4}}},
       "y": {"field": "a", "type": "quantitative", "scale": {"domain": [75, 1200], "nice": false, "zero": false},
             "axis": {"orient": "left", "values": [100,200,300,400,500,600,700,800,900,1000,1100,1200], "format": "d", "labelExpr": "datum.value % 500 === 0 ? datum.label : ''", "labelPadding": 17, "title": null, "tickSize": {"condition": {"test": "datum.value % 500 === 0", "value": -7}, "value": -4}}}
     }},
    {"mark": {"type": "line", "opacity": 0},
     "encoding": {
       "x": {"field": "t", "type": "quantitative", "scale": {"domain": [-19.2, 115], "nice": false, "zero": false},
             "axis": {"orient": "top", "values": [-10,0,10,20,30,40,50,60,70,80,90,100,110], "labels": false, "title": null, "tickSize": {"condition": {"test": "datum.value % 20 === 0", "value": -7}, "value": -4}}},
       "y": {"field": "a", "type": "quantitative", "scale": {"domain": [75, 1200], "nice": false, "zero": false},
             "axis": {"orient": "right", "values": [100,200,300,400,500,600,700,800,900,1000,1100,1200], "labels": false, "title": null, "tickSize": {"condition": {"test": "datum.value % 500 === 0", "value": -7}, "value": -4}}}
     }},
    {"data": {"values": [{"label": "TH0"}]},
     "mark": {"type": "text", "align": "right", "baseline": "alphabetic", "fontSize": 13.5, "color": "#000"},
     "encoding": {
       "text": {"field": "label"},
       "x": {"datum": 114.2, "type": "quantitative", "axis": null, "scale": {"domain": [-19.2, 115], "nice": false, "zero": false}},
       "y": {"datum": 1000, "type": "quantitative", "axis": null, "scale": {"domain": [75, 1200], "nice": false, "zero": false}}
     }}
  ]
},
{
  "width": 603, "height": 90,
  "data": {"name": "lc"},
  "resolve": {"axis": {"x": "independent", "y": "independent"}},
  "layer": [
    {"mark": {"type": "line", "color": "#00ff00", "clip": true},
     "encoding": {
       "x": {"field": "t", "type": "quantitative", "scale": {"domain": [-19.2, 115], "nice": false, "zero": false},
             "axis": {"orient": "bottom", "values": [-10,0,10,20,30,40,50,60,70,80,90,100,110], "labels": false, "title": null, "tickSize": {"condition": {"test": "datum.value % 20 === 0", "value": -7}, "value": -4}}},
       "y": {"field": "b", "type": "quantitative", "scale": {"domain": [80, 1005], "nice": false, "zero": false},
             "axis": {"orient": "left", "values": [100,200,300,400,500,600,700,800,900], "format": "d", "labelExpr": "datum.value % 200 === 0 ? datum.label : ''", "labelPadding": 17, "title": null, "tickSize": {"condition": {"test": "datum.value % 200 === 0", "value": -7}, "value": -4}}}
     }},
    {"mark": {"type": "line", "opacity": 0},
     "encoding": {
       "x": {"field": "t", "type": "quantitative", "scale": {"domain": [-19.2, 115], "nice": false, "zero": false},
             "axis": {"orient": "top", "values": [-10,0,10,20,30,40,50,60,70,80,90,100,110], "labels": false, "title": null, "tickSize": {"condition": {"test": "datum.value % 20 === 0", "value": -7}, "value": -4}}},
       "y": {"field": "b", "type": "quantitative", "scale": {"domain": [80, 1005], "nice": false, "zero": false},
             "axis": {"orient": "right", "values": [100,200,300,400,500,600,700,800,900], "labels": false, "title": null, "tickSize": {"condition": {"test": "datum.value % 200 === 0", "value": -7}, "value": -4}}}
     }},
    {"data": {"values": [{"label": "TH1"}]},
     "mark": {"type": "text", "align": "right", "baseline": "alphabetic", "fontSize": 13.5, "color": "#000"},
     "encoding": {
       "text": {"field": "label"},
       "x": {"datum": 114.2, "type": "quantitative", "axis": null, "scale": {"domain": [-19.2, 115], "nice": false, "zero": false}},
       "y": {"datum": 841, "type": "quantitative", "axis": null, "scale": {"domain": [80, 1005], "nice": false, "zero": false}}
     }}
  ]
},
{
  "width": 603, "height": 90,
  "data": {"name": "lc"},
  "resolve": {"axis": {"x": "independent", "y": "independent"}},
  "layer": [
    {"mark": {"type": "line", "color": "#0000ff", "clip": true},
     "encoding": {
       "x": {"field": "t", "type": "quantitative", "scale": {"domain": [-19.2, 115], "nice": false, "zero": false},
             "axis": {"orient": "bottom", "values": [-10,0,10,20,30,40,50,60,70,80,90,100,110], "labels": false, "title": null, "tickSize": {"condition": {"test": "datum.value % 20 === 0", "value": -7}, "value": -4}}},
       "y": {"field": "c", "type": "quantitative", "scale": {"domain": [280, 1545], "nice": false, "zero": false},
             "axis": {"orient": "left", "values": [300,400,500,600,700,800,900,1000,1100,1200,1300,1400,1500], "format": "d", "labelExpr": "datum.value % 500 === 0 ? datum.label : ''", "labelPadding": 17, "title": "Counts/sec", "titleX": -61, "titleY": 53, "titleAngle": -90, "titleAlign": "center", "titleBaseline": "alphabetic", "tickSize": {"condition": {"test": "datum.value % 500 === 0", "value": -7}, "value": -4}}}
     }},
    {"mark": {"type": "line", "opacity": 0},
     "encoding": {
       "x": {"field": "t", "type": "quantitative", "scale": {"domain": [-19.2, 115], "nice": false, "zero": false},
             "axis": {"orient": "top", "values": [-10,0,10,20,30,40,50,60,70,80,90,100,110], "labels": false, "title": null, "tickSize": {"condition": {"test": "datum.value % 20 === 0", "value": -7}, "value": -4}}},
       "y": {"field": "c", "type": "quantitative", "scale": {"domain": [280, 1545], "nice": false, "zero": false},
             "axis": {"orient": "right", "values": [300,400,500,600,700,800,900,1000,1100,1200,1300,1400,1500], "labels": false, "title": null, "tickSize": {"condition": {"test": "datum.value % 500 === 0", "value": -7}, "value": -4}}}
     }},
    {"data": {"values": [{"label": "TH2"}]},
     "mark": {"type": "text", "align": "right", "baseline": "alphabetic", "fontSize": 13.5, "color": "#000"},
     "encoding": {
       "text": {"field": "label"},
       "x": {"datum": 114.2, "type": "quantitative", "axis": null, "scale": {"domain": [-19.2, 115], "nice": false, "zero": false}},
       "y": {"datum": 1320, "type": "quantitative", "axis": null, "scale": {"domain": [280, 1545], "nice": false, "zero": false}}
     }}
  ]
},
{
  "width": 603, "height": 89,
  "data": {"name": "lc"},
  "resolve": {"axis": {"x": "independent", "y": "independent"}},
  "layer": [
    {"mark": {"type": "line", "color": "#00ffff", "clip": true},
     "encoding": {
       "x": {"field": "t", "type": "quantitative", "scale": {"domain": [-19.2, 115], "nice": false, "zero": false},
             "axis": {"orient": "bottom", "values": [-10,0,10,20,30,40,50,60,70,80,90,100,110], "labels": false, "title": null, "tickSize": {"condition": {"test": "datum.value % 20 === 0", "value": -7}, "value": -4}}},
       "y": {"field": "d", "type": "quantitative", "scale": {"domain": [945, 2585], "nice": false, "zero": false},
             "axis": {"orient": "left", "values": [1000,1100,1200,1300,1400,1500,1600,1700,1800,1900,2000,2100,2200,2300,2400,2500], "format": "d", "labelExpr": "datum.value % 500 === 0 ? datum.label : ''", "labelPadding": 17, "title": null, "tickSize": {"condition": {"test": "datum.value % 500 === 0", "value": -7}, "value": -4}}}
     }},
    {"mark": {"type": "line", "opacity": 0},
     "encoding": {
       "x": {"field": "t", "type": "quantitative", "scale": {"domain": [-19.2, 115], "nice": false, "zero": false},
             "axis": {"orient": "top", "values": [-10,0,10,20,30,40,50,60,70,80,90,100,110], "labels": false, "title": null, "tickSize": {"condition": {"test": "datum.value % 20 === 0", "value": -7}, "value": -4}}},
       "y": {"field": "d", "type": "quantitative", "scale": {"domain": [945, 2585], "nice": false, "zero": false},
             "axis": {"orient": "right", "values": [1000,1100,1200,1300,1400,1500,1600,1700,1800,1900,2000,2100,2200,2300,2400,2500], "labels": false, "title": null, "tickSize": {"condition": {"test": "datum.value % 500 === 0", "value": -7}, "value": -4}}}
     }},
    {"data": {"values": [{"label": "TH3"}]},
     "mark": {"type": "text", "align": "right", "baseline": "alphabetic", "fontSize": 13.5, "color": "#000"},
     "encoding": {
       "text": {"field": "label"},
       "x": {"datum": 114.2, "type": "quantitative", "axis": null, "scale": {"domain": [-19.2, 115], "nice": false, "zero": false}},
       "y": {"datum": 2290, "type": "quantitative", "axis": null, "scale": {"domain": [945, 2585], "nice": false, "zero": false}}
     }}
  ]
},
{
  "width": 603, "height": 90,
  "data": {"name": "lc"},
  "resolve": {"axis": {"x": "independent", "y": "independent"}},
  "layer": [
    {"mark": {"type": "line", "color": "#ff00ff", "clip": true},
     "encoding": {
       "x": {"field": "t", "type": "quantitative", "scale": {"domain": [-19.2, 115], "nice": false, "zero": false},
             "axis": {"orient": "bottom", "values": [-10,0,10,20,30,40,50,60,70,80,90,100,110], "format": "d", "labelExpr": "datum.value % 20 === 0 ? datum.label : ''", "labelPadding": 10, "title": "Time [sec] 0 = 2005/12/01 09:59:29.850", "titleX": 291, "titlePadding": 5, "tickSize": {"condition": {"test": "datum.value % 20 === 0", "value": -7}, "value": -4}}},
       "y": {"field": "e", "type": "quantitative", "scale": {"domain": [2360, 5240], "nice": false, "zero": false},
             "axis": {"orient": "left", "values": [2400,2600,2800,3000,3200,3400,3600,3800,4000,4200,4400,4600,4800,5000,5200], "format": "d", "labelExpr": "datum.value % 1000 === 0 ? datum.label : ''", "labelPadding": 17, "title": null, "tickSize": {"condition": {"test": "datum.value % 1000 === 0", "value": -7}, "value": -4}}}
     }},
    {"mark": {"type": "line", "opacity": 0},
     "encoding": {
       "x": {"field": "t", "type": "quantitative", "scale": {"domain": [-19.2, 115], "nice": false, "zero": false},
             "axis": {"orient": "top", "values": [-10,0,10,20,30,40,50,60,70,80,90,100,110], "labels": false, "title": null, "tickSize": {"condition": {"test": "datum.value % 20 === 0", "value": -7}, "value": -4}}},
       "y": {"field": "e", "type": "quantitative", "scale": {"domain": [2360, 5240], "nice": false, "zero": false},
             "axis": {"orient": "right", "values": [2400,2600,2800,3000,3200,3400,3600,3800,4000,4200,4400,4600,4800,5000,5200], "labels": false, "title": null, "tickSize": {"condition": {"test": "datum.value % 1000 === 0", "value": -7}, "value": -4}}}
     }},
    {"data": {"values": [{"label": "TH0123"}]},
     "mark": {"type": "text", "align": "right", "baseline": "alphabetic", "fontSize": 13.5, "color": "#000"},
     "encoding": {
       "text": {"field": "label"},
       "x": {"datum": 114.2, "type": "quantitative", "axis": null, "scale": {"domain": [-19.2, 115], "nice": false, "zero": false}},
       "y": {"datum": 4728, "type": "quantitative", "axis": null, "scale": {"domain": [2360, 5240], "nice": false, "zero": false}}
     }}
  ]
}
]
}
